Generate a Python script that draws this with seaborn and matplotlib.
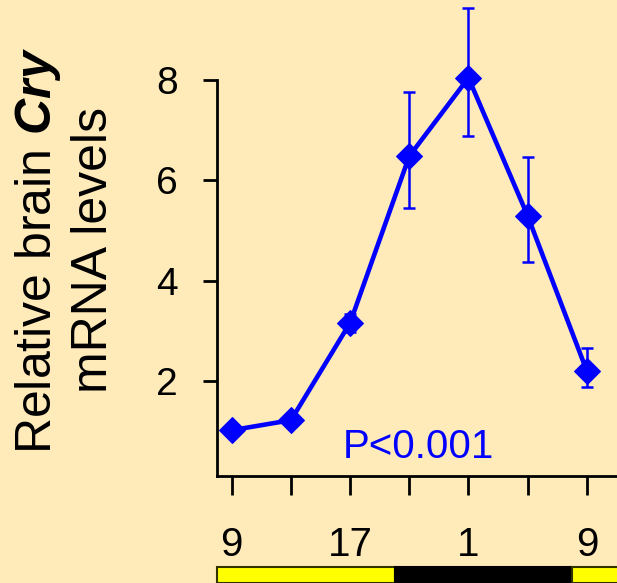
import matplotlib
matplotlib.use("Agg")
import matplotlib.pyplot as plt
import matplotlib.transforms as mtransforms
from matplotlib.patches import Rectangle
import seaborn as sns
import pandas as pd

# ---- data ----
time_labels = ["9", "", "17", "", "1", "", "9"]
time_index = [0, 1, 2, 3, 4, 5, 6]
cry_mean = [1.02, 1.22, 3.16, 6.48, 8.04, 5.29, 2.20]
err_low = [0.0, 0.0, 0.18, 1.03, 1.16, 0.92, 0.32]
err_high = [0.0, 0.0, 0.17, 1.28, 1.40, 1.17, 0.46]
dark_start, dark_end = 2.75, 5.75  # lights off / on (index units)

BG = "#FFEBB9"
BLUE = "#0000FF"

sns.set_theme(style="white")
plt.rcParams["font.family"] = ["Liberation Sans", "DejaVu Sans"]
plt.rcParams["mathtext.fontset"] = "custom"
plt.rcParams["mathtext.rm"] = "Liberation Sans"
plt.rcParams["mathtext.bf"] = "Liberation Sans:bold"
plt.rcParams["mathtext.it"] = "Liberation Sans:italic"
plt.rcParams["mathtext.bfit"] = "Liberation Sans:bold:italic"

df = pd.DataFrame({"t": time_index, "cry": cry_mean})

fig = plt.figure(figsize=(6.17, 5.83), dpi=100, facecolor=BG)
ax = fig.add_axes([217 / 617, 107 / 583, 400 / 617, 476 / 583])
ax.set_facecolor(BG)

ax.errorbar(time_index, cry_mean, yerr=[err_low, err_high], fmt="none",
            ecolor=BLUE, elinewidth=1.8, capsize=4, capthick=1.8, zorder=2)
sns.lineplot(data=df, x="t", y="cry", ax=ax, color=BLUE, linewidth=3.3,
             marker="D", markersize=13, markeredgecolor=BLUE, zorder=3)

ax.set_xlim(-0.25, 6.51)
ax.set_ylim(0.108, 9.59)

ax.set_xticks(time_index)
ax.set_xticklabels(time_labels, fontsize=29)
ax.set_yticks([2, 4, 6, 8])
ax.set_yticklabels(["2", "4", "6", "8"], fontsize=28)
ax.tick_params(axis="y", left=True, direction="out", length=10, width=2, pad=18,
               colors="black")
ax.tick_params(axis="x", bottom=True, direction="out", length=14, width=2, pad=22,
               colors="black")

for s in ["top", "right"]:
    ax.spines[s].set_visible(False)
for s in ["left", "bottom"]:
    ax.spines[s].set_color("black")
    ax.spines[s].set_linewidth(2)
ax.spines["left"].set_bounds(0.108, 8)

ax.set_xlabel("")
ax.set_ylabel("Relative brain $\\mathbfit{Cry}$\nmRNA levels", fontsize=36,
              color="black", ha="center", va="center", multialignment="center",
              linespacing=1.2)
ax.yaxis.set_label_coords((65 - 217) / 400, (476 - 250) / 476)

ax.text(3.15, 0.69, "P<0.001", color=BLUE, fontsize=29, ha="center", va="center")

# light/dark bar
trans = mtransforms.blended_transform_factory(ax.transData, ax.transAxes)
y0, h = (476 - 583) / 476, (583 - 567) / 476
ax.add_patch(Rectangle((-0.25, y0), dark_start + 0.25, h, transform=trans,
                       facecolor="#FFFF00", edgecolor="#333300", linewidth=1.5, clip_on=False))
ax.add_patch(Rectangle((dark_start, y0), dark_end - dark_start, h, transform=trans,
                       facecolor="black", edgecolor="black", linewidth=1.5, clip_on=False))
ax.add_patch(Rectangle((dark_end, y0), 1.5, h, transform=trans,
                       facecolor="#FFFF00", edgecolor="#333300", linewidth=1.5, clip_on=False))

fig.savefig("out.png", dpi=100, facecolor=BG)
